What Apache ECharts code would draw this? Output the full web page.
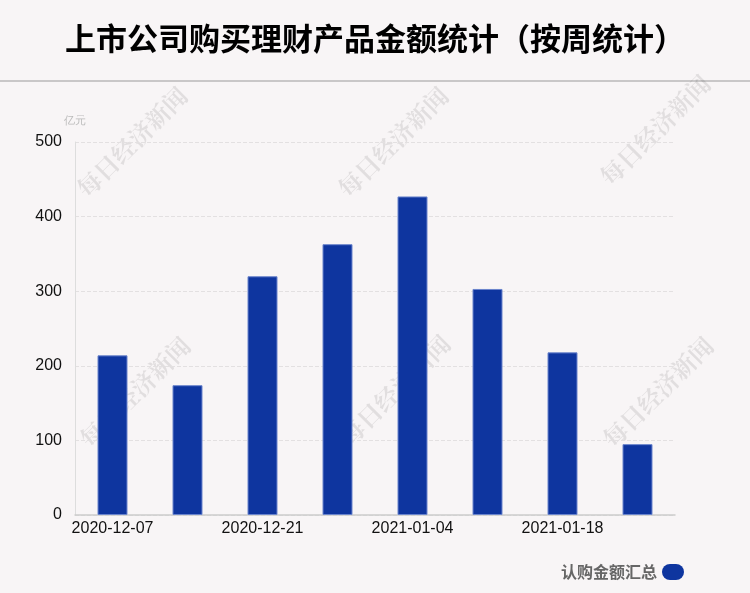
<!DOCTYPE html>
<html><head><meta charset="utf-8">
<script src="https://cdn.jsdelivr.net/npm/echarts@6/dist/echarts.min.js"></script>
<style>html,body{margin:0;padding:0;background:#f8f5f6;}#c{width:750px;height:593px;}</style>
</head><body><div id="c"></div>
<script>
const categories = ['2020-12-07','2020-12-14','2020-12-21','2020-12-28','2021-01-04','2021-01-11','2021-01-18','2021-01-25'];
const values = [214, 174, 320, 363, 427, 303, 218, 95];
const seriesName = '认购金额汇总';
const titleText = '上市公司购买理财产品金额统计（按周统计）';
const unitText = '亿元';
const watermarkText = '每日经济新闻';
const watermarkPos = [[132,142],[393,142],[655,130],[135,392],[395,390],[658,392]];

const chart = echarts.init(document.getElementById('c'));
const font = '"Liberation Sans", "Noto Sans CJK SC", sans-serif';
const wm = watermarkPos.map(p => ({
  type:'text', x:p[0], y:p[1], rotation: Math.PI/4, z: 0,
  style:{text: watermarkText, fill:'rgba(0,0,0,0.09)', font:'bold 24px "Noto Serif CJK SC", "Noto Sans CJK SC", serif', align:'center', verticalAlign:'middle'}
}));
chart.setOption({
  backgroundColor:'#f8f5f6',
  title:{text: titleText, left:'center', top:18, textStyle:{fontSize:31, fontWeight:'bold', color:'#000', fontFamily:'"Noto Sans CJK SC", sans-serif'}},
  graphic:[{type:'line', shape:{x1:0,y1:81,x2:750,y2:81}, style:{stroke:'#c9c7c8', lineWidth:2}}].concat(wm),
  legend:{right:61, bottom:8, itemWidth:22, itemHeight:16, icon:'path://M8,0 H14 A8,8 0 0 1 14,16 H8 A8,8 0 0 1 8,0 Z', itemGap:6, align:'right',
    itemStyle:{borderWidth:0},
    textStyle:{color:'#666', fontSize:16, fontWeight:'bold', fontFamily:'"Noto Sans CJK SC", sans-serif'}, data:[seriesName]},
  grid:{left:75, right:75, top:142, bottom:78},
  xAxis:{type:'category', data:categories,
    axisLine:{lineStyle:{color:'#ccc', width:1.5}}, axisTick:{show:false},
    axisLabel:{interval:1, color:'#111', fontSize:16, fontFamily:font, margin:6}},
  yAxis:{type:'value', min:0, max:500, interval:100, name:unitText,
    nameTextStyle:{color:'#bbb', fontSize:11, align:'center', padding:[0,0,2,0]}, nameGap:14,
    axisLine:{show:true, lineStyle:{color:'#ddd'}}, axisTick:{show:false},
    axisLabel:{color:'#111', fontSize:16, fontFamily:font, margin:13},
    splitLine:{lineStyle:{type:'dashed', color:'#e3e0e1'}}},
  series:[{name:seriesName, type:'bar', data:values, barWidth:30, z:5,
    itemStyle:{color:'#0e359f', borderColor:'#6a84cc', borderWidth:1}}]
});
</script></body></html>
